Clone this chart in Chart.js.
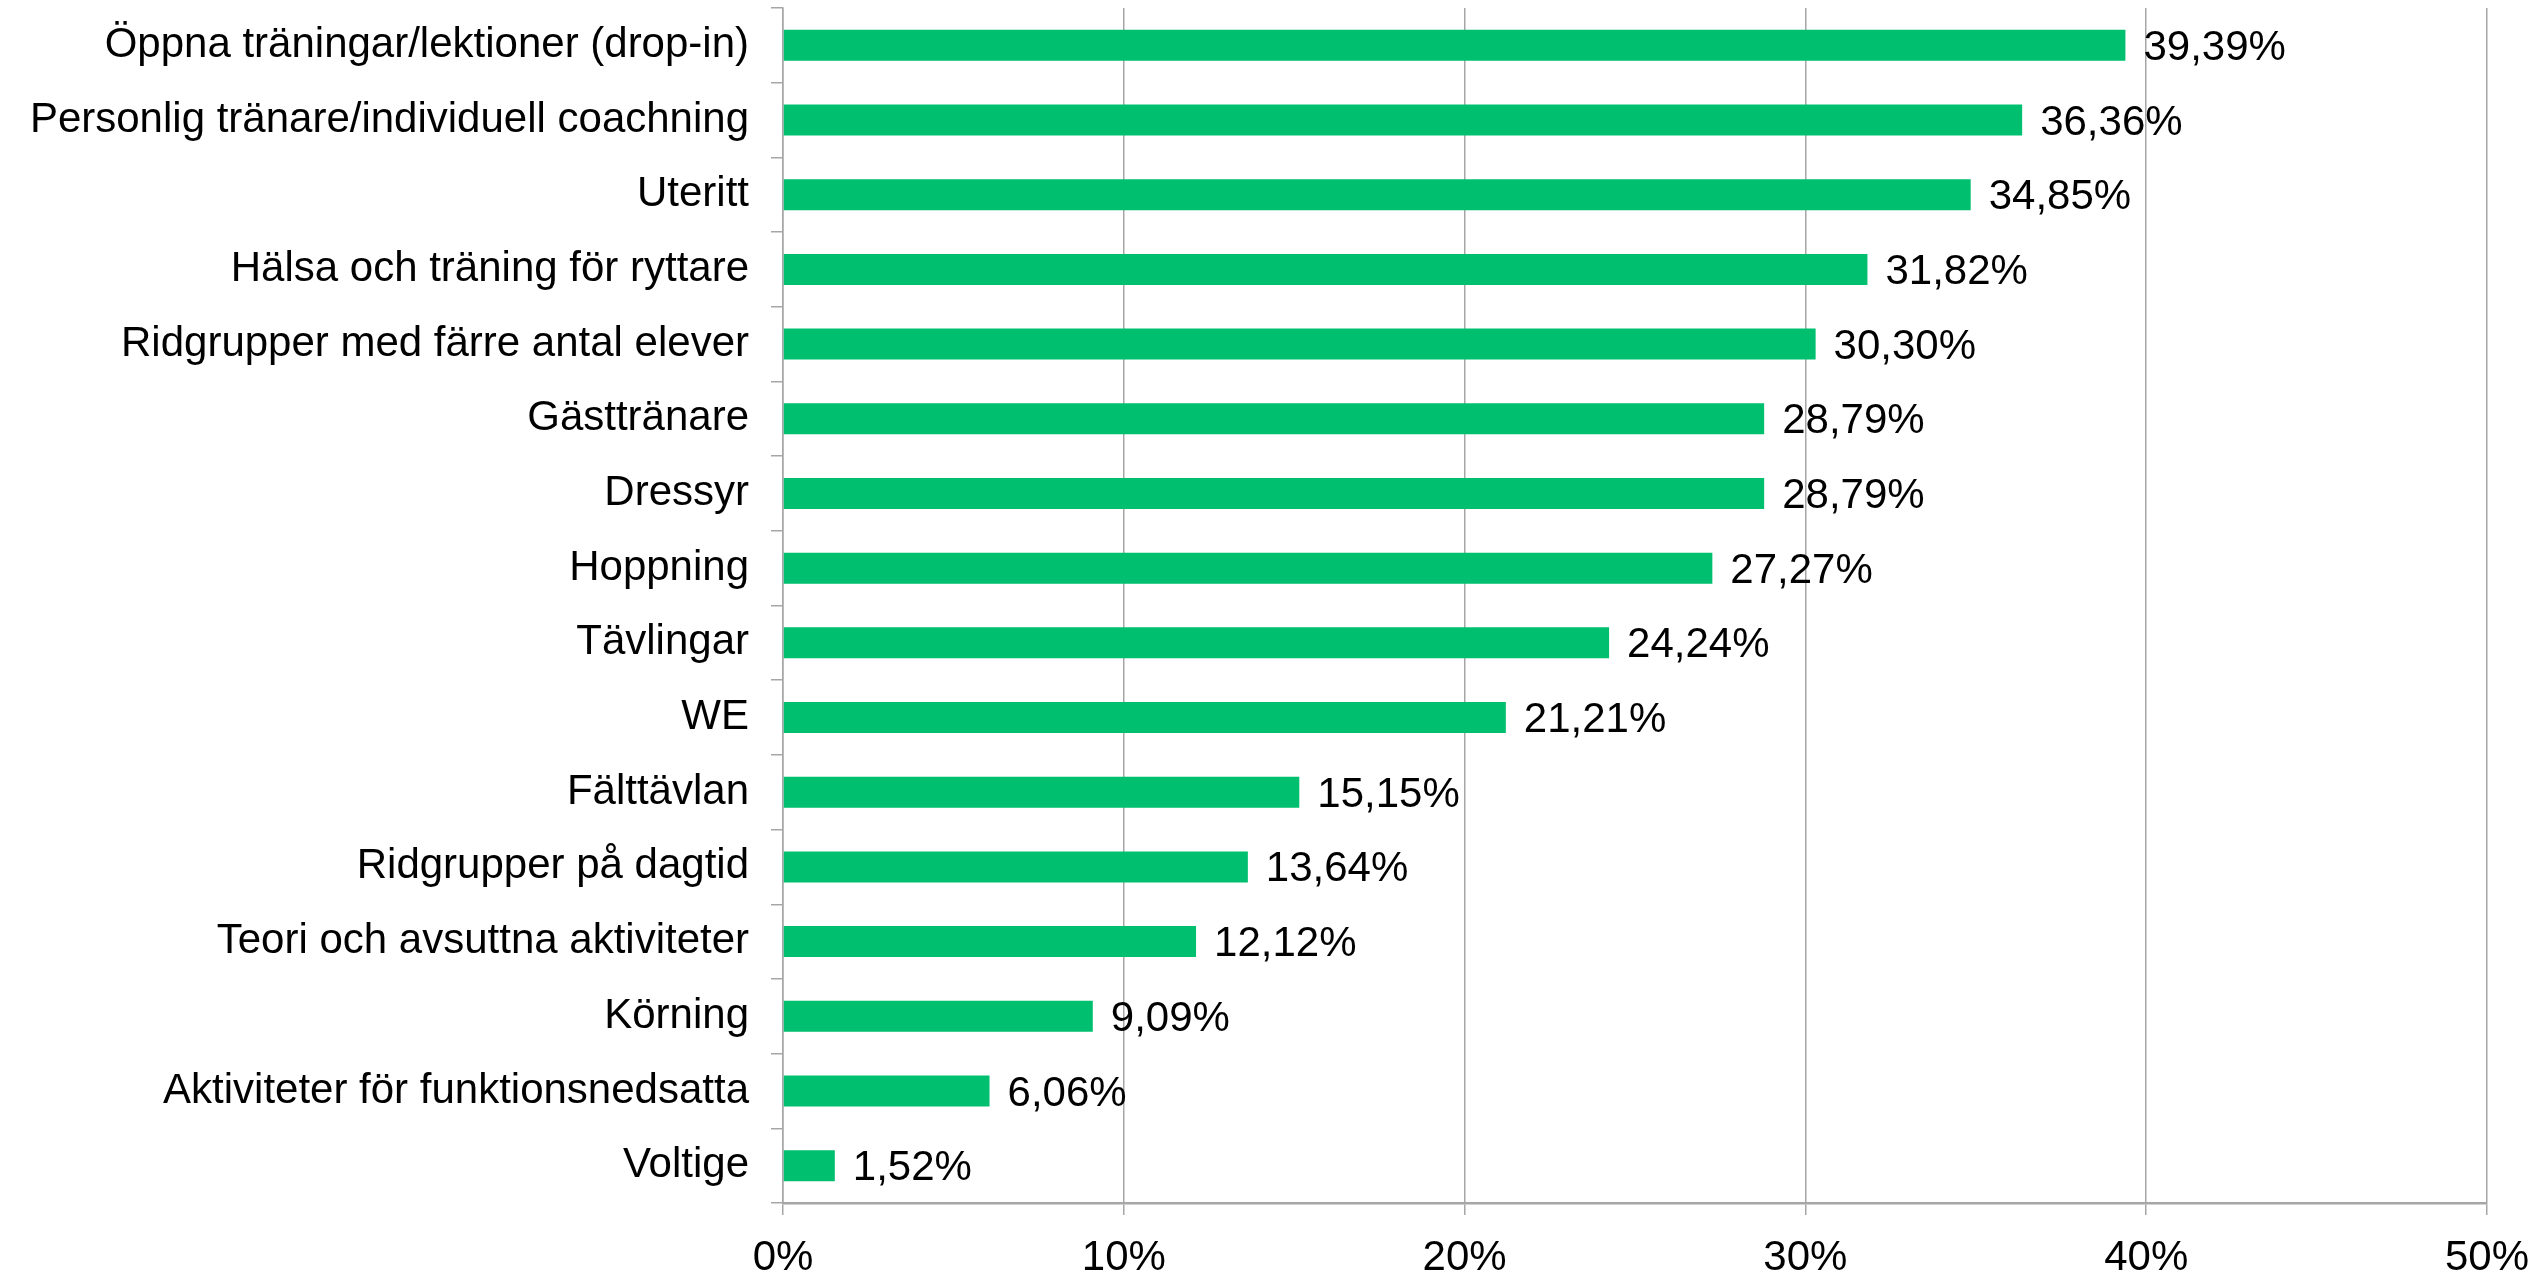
<!DOCTYPE html>
<html>
<head>
<meta charset="utf-8">
<script src="https://cdn.jsdelivr.net/npm/chart.js@4"></script>
<style>
  body { margin: 0; background: #fff; }
  #wrap { width: 2542px; height: 1274px; position: relative; }
</style>
</head>
<body>
<div id="wrap"><canvas id="myChart"></canvas></div>
<script>
var categories = [
    'Öppna träningar/lektioner (drop-in)',
    'Personlig tränare/individuell coachning',
    'Uteritt',
    'Hälsa och träning för ryttare',
    'Ridgrupper med färre antal elever',
    'Gästtränare',
    'Dressyr',
    'Hoppning',
    'Tävlingar',
    'WE',
    'Fälttävlan',
    'Ridgrupper på dagtid',
    'Teori och avsuttna aktiviteter',
    'Körning',
    'Aktiviteter för funktionsnedsatta',
    'Voltige'
];
var values = [39.39, 36.36, 34.85, 31.82, 30.30, 28.79, 28.79, 27.27, 24.24, 21.21, 15.15, 13.64, 12.12, 9.09, 6.06, 1.52];
var xTicks = [0, 10, 20, 30, 40, 50];

var GRID = '#a6a6a6';
var FONT_SIZE = 42;

function fmt (v) {
    return v.toFixed(2).replace('.', ',') + '%';
}

// draws the value next to each bar end
var valueLabels = {
    id: 'valueLabels',
    afterDatasetsDraw: function (chart) {
        var ctx = chart.ctx;
        var meta = chart.getDatasetMeta(0);
        ctx.save();
        ctx.font = FONT_SIZE + 'px "Liberation Sans", Arial, sans-serif';
        ctx.fillStyle = '#000';
        ctx.textAlign = 'left';
        ctx.textBaseline = 'middle';
        meta.data.forEach(function (bar, i) {
            ctx.fillText(fmt(values[i]), bar.x + 18, bar.y + 3);
        });
        ctx.restore();
    }
};

Chart.defaults.font.family = '"Liberation Sans", Arial, sans-serif';
Chart.defaults.font.size = FONT_SIZE;
Chart.defaults.color = '#000';

const ctx = document.getElementById('myChart').getContext('2d');
const myChart = new Chart(ctx, {
    type: 'bar',
    data: {
        labels: categories,
        datasets: [{
            data: values,
            backgroundColor: '#00bf6f',
            borderWidth: 0,
            barPercentage: 0.415,
            categoryPercentage: 1
        }]
    },
    options: {
        indexAxis: 'y',
        responsive: true,
        maintainAspectRatio: false,
        animation: false,
        layout: {
            padding: { top: 8, right: 55, left: 0, bottom: 0 }
        },
        scales: {
            x: {
                min: 0,
                max: 50,
                afterBuildTicks: function (scale) {
                    scale.ticks = xTicks.map(function (v) { return { value: v }; });
                },
                afterFit: function (scale) {
                    scale.height = 71;
                    scale.paddingLeft = 0;
                    scale.paddingRight = 0;
                },
                grid: {
                    color: GRID,
                    lineWidth: 1.5,
                    tickLength: 12,
                    drawOnChartArea: true
                },
                border: { color: GRID, width: 2.5 },
                ticks: {
                    padding: 18,
                    callback: function (v) { return v + '%'; },
                    maxRotation: 0
                }
            },
            y: {
                afterFit: function (scale) {
                    scale.width = 783;
                    scale.paddingTop = 0;
                    scale.paddingBottom = 0;
                },
                grid: {
                    offset: true,
                    drawOnChartArea: false,
                    color: GRID,
                    lineWidth: 1.5,
                    tickLength: 12
                },
                border: { color: GRID, width: 1.5 },
                ticks: {
                    padding: 22,
                    autoSkip: false
                }
            }
        },
        plugins: {
            legend: { display: false },
            tooltip: { enabled: false }
        }
    },
    plugins: [valueLabels]
});
</script>
</body>
</html>
